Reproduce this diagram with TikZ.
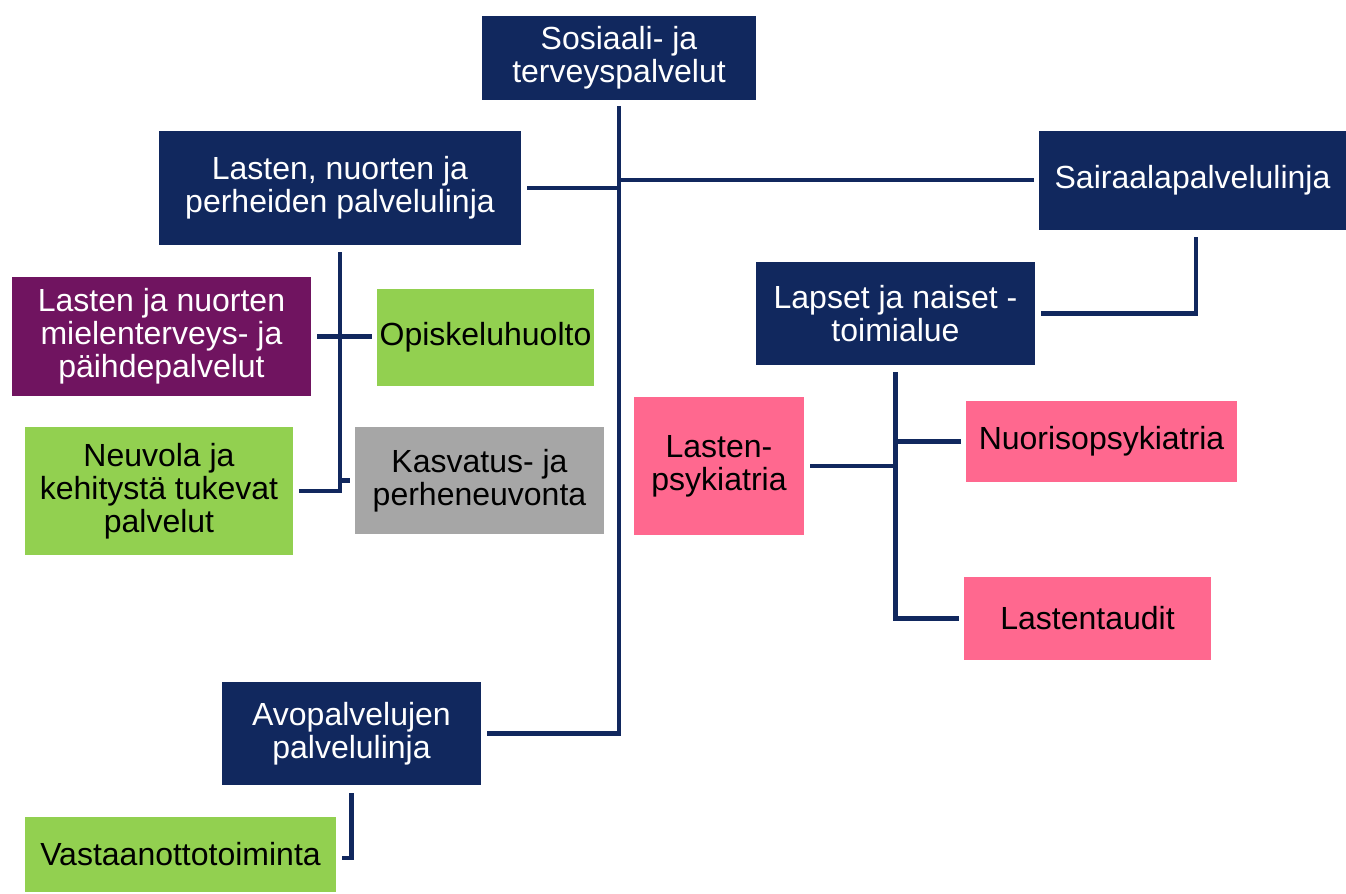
\documentclass[tikz,border=0pt]{standalone}
\usepackage{fontspec}
\setmainfont{Liberation Sans}
\definecolor{navy}{RGB}{17,40,94}
\definecolor{plum}{RGB}{112,20,96}
\definecolor{lgreen}{RGB}{146,208,80}
\definecolor{lgray}{RGB}{166,166,166}
\definecolor{pinkbox}{RGB}{255,104,143}
\begin{document}
\begin{tikzpicture}[x=0.75pt,y=-0.75pt,
  box/.style={inner sep=0pt, outer sep=0pt, align=center,
    font=\fontsize{24}{24.8}\selectfont},
  navybox/.style={box, fill=navy, text=white},
  plumbox/.style={box, fill=plum, text=white},
  greenbox/.style={box, fill=lgreen, text=black},
  graybox/.style={box, fill=lgray, text=black},
  pbox/.style={box, fill=pinkbox, text=black},
  conn/.style={draw=navy, line width=3.2pt, line join=miter}]
\useasboundingbox (0,0) rectangle (1346,893);
\node[navybox, minimum width=274*0.75pt, minimum height=84*0.75pt] (top) at (619,58) {Sosiaali- ja\\terveyspalvelut};
\node[navybox, minimum width=362*0.75pt, minimum height=114*0.75pt] (lnp) at (340,188) {Lasten, nuorten ja\\perheiden palvelulinja};
\node[navybox, minimum width=307*0.75pt, minimum height=99*0.75pt] (sair) at (1192.5,180.5) {Sairaalapalvelulinja};
\node[navybox, minimum width=279*0.75pt, minimum height=103*0.75pt] (lapset) at (895.5,313.5) {Lapset ja naiset -\\toimialue};
\node[plumbox, minimum width=299*0.75pt, minimum height=119*0.75pt] (mt) at (161.5,336.5) {Lasten ja nuorten\\mielenterveys- ja\\päihdepalvelut};
\node[greenbox, minimum width=217*0.75pt, minimum height=97*0.75pt] (opisk) at (485.5,337.5) {Opiskeluhuolto};
\node[greenbox, minimum width=268*0.75pt, minimum height=128*0.75pt] (neuv) at (159,491) {Neuvola ja\\kehitystä tukevat\\palvelut};
\node[graybox, minimum width=249*0.75pt, minimum height=107*0.75pt] (kasv) at (479.5,480.5) {Kasvatus- ja\\perheneuvonta};
\node[pbox, minimum width=170*0.75pt, minimum height=138*0.75pt] (lpsyk) at (719,466) {Lasten-\\psykiatria};
\node[pbox, minimum width=271*0.75pt, minimum height=81*0.75pt] (nuori) at (1101.5,441.5) {Nuorisopsykiatria};
\node[pbox, minimum width=247*0.75pt, minimum height=83*0.75pt] (lastent) at (1087.5,618.5) {Lastentaudit};
\node[navybox, minimum width=259*0.75pt, minimum height=103*0.75pt] (avo) at (351.5,733.5) {Avopalvelujen\\palvelulinja};
\node[greenbox, minimum width=311*0.75pt, minimum height=75*0.75pt] (vast) at (180.5,854.5) {Vastaanottotoiminta};
% main spine
\draw[conn] ([yshift=-6*0.75pt]top.south) -- (top.south |- avo.east) -- ([xshift=6*0.75pt]avo.east);
\draw[conn] ([xshift=6*0.75pt]lnp.east) -- (lnp.east -| top.south);
\draw[conn] ([xshift=-5*0.75pt,yshift=0.5*0.75pt]sair.west) -- ([yshift=0.5*0.75pt]sair.west -| top.south);
% hospital branch
\draw[conn] ([xshift=3.5*0.75pt,yshift=-7*0.75pt]sair.south) |- ([xshift=6*0.75pt]lapset.east);
\draw[conn] ([yshift=-7*0.75pt]lapset.south) |- ([xshift=-5*0.75pt]lastent.west);
\draw[conn] ([xshift=6*0.75pt]lpsyk.east) -- (lpsyk.east -| lapset.south);
\draw[conn] (nuori.west -| lapset.south) -- ([xshift=-5*0.75pt]nuori.west);
% family services branch
\draw[conn] ([yshift=-7*0.75pt]lnp.south) |- ([xshift=6*0.75pt]neuv.east);
\draw[conn] ([xshift=6*0.75pt]mt.east) -- ([xshift=-5*0.75pt]opisk.west |- mt.east);
\draw[conn] (lnp.south |- kasv.west) -- ([xshift=-5*0.75pt]kasv.west);
% outpatient branch
\draw[conn] ([yshift=-8*0.75pt]avo.south) |- ([xshift=6*0.75pt,yshift=-3.5*0.75pt]vast.east);
\end{tikzpicture}
\end{document}
